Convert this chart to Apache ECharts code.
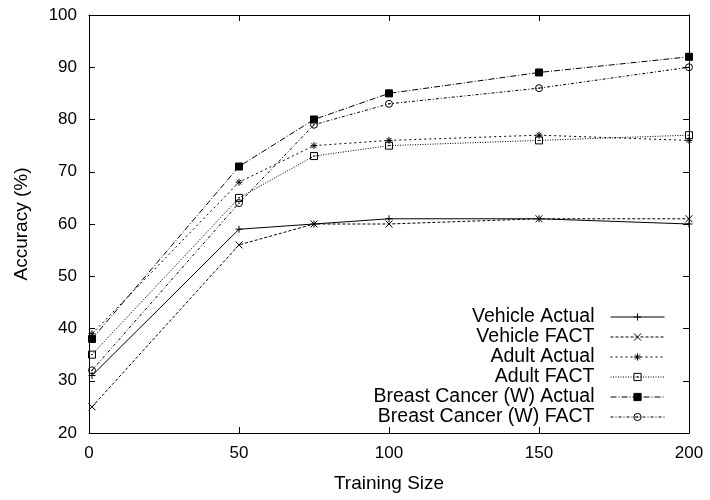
<!DOCTYPE html>
<html>
<head>
<meta charset="utf-8">
<script src="https://cdn.jsdelivr.net/npm/echarts@6/dist/echarts.min.js"></script>
<style>
  html, body { margin: 0; padding: 0; background: #fff; }
  #chart { width: 710px; height: 500px; }
</style>
</head>
<body>
<div id="chart"></div>
<script>
// Accuracy against training size for the three data sets
const trainingSize = [1, 50, 75, 100, 150, 200];
const vehicleActual = [31, 59, 60, 61, 61, 60];
const vehicleFact = [25, 56, 60, 60, 61, 61];
const adultActual = [39, 68, 75, 76, 77, 76];
const adultFact = [35, 65, 73, 75, 76, 77];
const breastActual = [38, 71, 80, 85, 89, 92];
const breastFact = [32, 64, 79, 83, 86, 90];

const seriesNames = [
  'Vehicle Actual', 'Vehicle FACT', 'Adult Actual',
  'Adult FACT', 'Breast Cancer (W) Actual', 'Breast Cancer (W) FACT'
];
const xRange = { min: 0, max: 200, interval: 50 };
const yRange = { min: 20, max: 100, interval: 10 };

const FONT = '"Liberation Sans", Arial, Helvetica, sans-serif';
const INK = '#000';

// gnuplot-style point markers
const MARK = {
  plus: 'path://M0,5H10M5,0V10',
  cross: 'path://M0,0L10,10M10,0L0,10',
  star: 'path://M0,5H10M5,0V10M1.5,1.5L8.5,8.5M8.5,1.5L1.5,8.5',
  box: 'path://M0,0H10V10H0ZM4.6,4.6H5.4V5.4H4.6Z',
  circle: 'path://M5,0A5,5,0,1,1,5,10A5,5,0,1,1,5,0ZM4.6,4.6H5.4V5.4H4.6Z'
};

const styles = [
  { symbol: MARK.plus, fill: 'none', dash: 'solid' },
  { symbol: MARK.cross, fill: 'none', dash: [3, 2] },
  { symbol: MARK.star, fill: 'none', dash: [2, 3] },
  { symbol: MARK.box, fill: 'none', dash: [1, 1.5] },
  { symbol: 'rect', fill: INK, dash: [6, 2, 1, 2] },
  { symbol: MARK.circle, fill: 'none', dash: [3, 2, 1, 2] }
];
const values = [vehicleActual, vehicleFact, adultActual, adultFact, breastActual, breastFact];

const series = seriesNames.map((name, i) => ({
  name: name,
  type: 'line',
  xAxisIndex: 0,
  yAxisIndex: 0,
  data: trainingSize.map((x, j) => [x, values[i][j]]),
  symbol: styles[i].symbol,
  symbolSize: 7,
  showAllSymbol: true,
  lineStyle: { color: INK, width: 1, type: styles[i].dash },
  itemStyle: { color: styles[i].fill, borderColor: INK, borderWidth: 1 },
  emphasis: { disabled: true },
  silent: true,
  z: 3 + i
}));

function axisCommon(showLabels) {
  return {
    type: 'value',
    axisLine: { show: true, onZero: false, lineStyle: { color: INK, width: 1 } },
    axisTick: { show: true, inside: true, length: 6, lineStyle: { color: INK, width: 1 } },
    axisLabel: { show: showLabels, color: INK, fontFamily: FONT, fontSize: 17, margin: 12 },
    splitLine: { show: false }
  };
}

const chart = echarts.init(document.getElementById('chart'), null, { renderer: 'canvas' });
chart.setOption({
  animation: false,
  backgroundColor: '#fff',
  grid: { left: 89, right: 21, top: 15, bottom: 67, outerBoundsMode: 'none', containLabel: false },
  xAxis: [
    Object.assign(axisCommon(true), xRange, {
      position: 'bottom',
      name: 'Training Size',
      nameLocation: 'middle',
      nameGap: 41,
      nameTextStyle: { color: INK, fontFamily: FONT, fontSize: 19 }
    }),
    Object.assign(axisCommon(false), xRange, { position: 'top' })
  ],
  yAxis: [
    Object.assign(axisCommon(true), yRange, {
      position: 'left',
      name: 'Accuracy (%)',
      nameLocation: 'middle',
      nameGap: 58,
      nameTextStyle: { color: INK, fontFamily: FONT, fontSize: 19 }
    }),
    Object.assign(axisCommon(false), yRange, { position: 'right' })
  ],
  legend: {
    orient: 'vertical',
    align: 'right',
    right: 45,
    top: 307,
    padding: 0,
    itemWidth: 54,
    itemHeight: 9,
    itemGap: 0,
    selectedMode: false,
    data: seriesNames,
    itemStyle: { borderWidth: 1 },
    lineStyle: { width: 1 },
    textStyle: {
      color: INK, fontFamily: FONT, fontSize: 19.5, lineHeight: 19,
      padding: [0, 11, 0, 0]
    }
  },
  series: series
});
</script>
</body>
</html>
